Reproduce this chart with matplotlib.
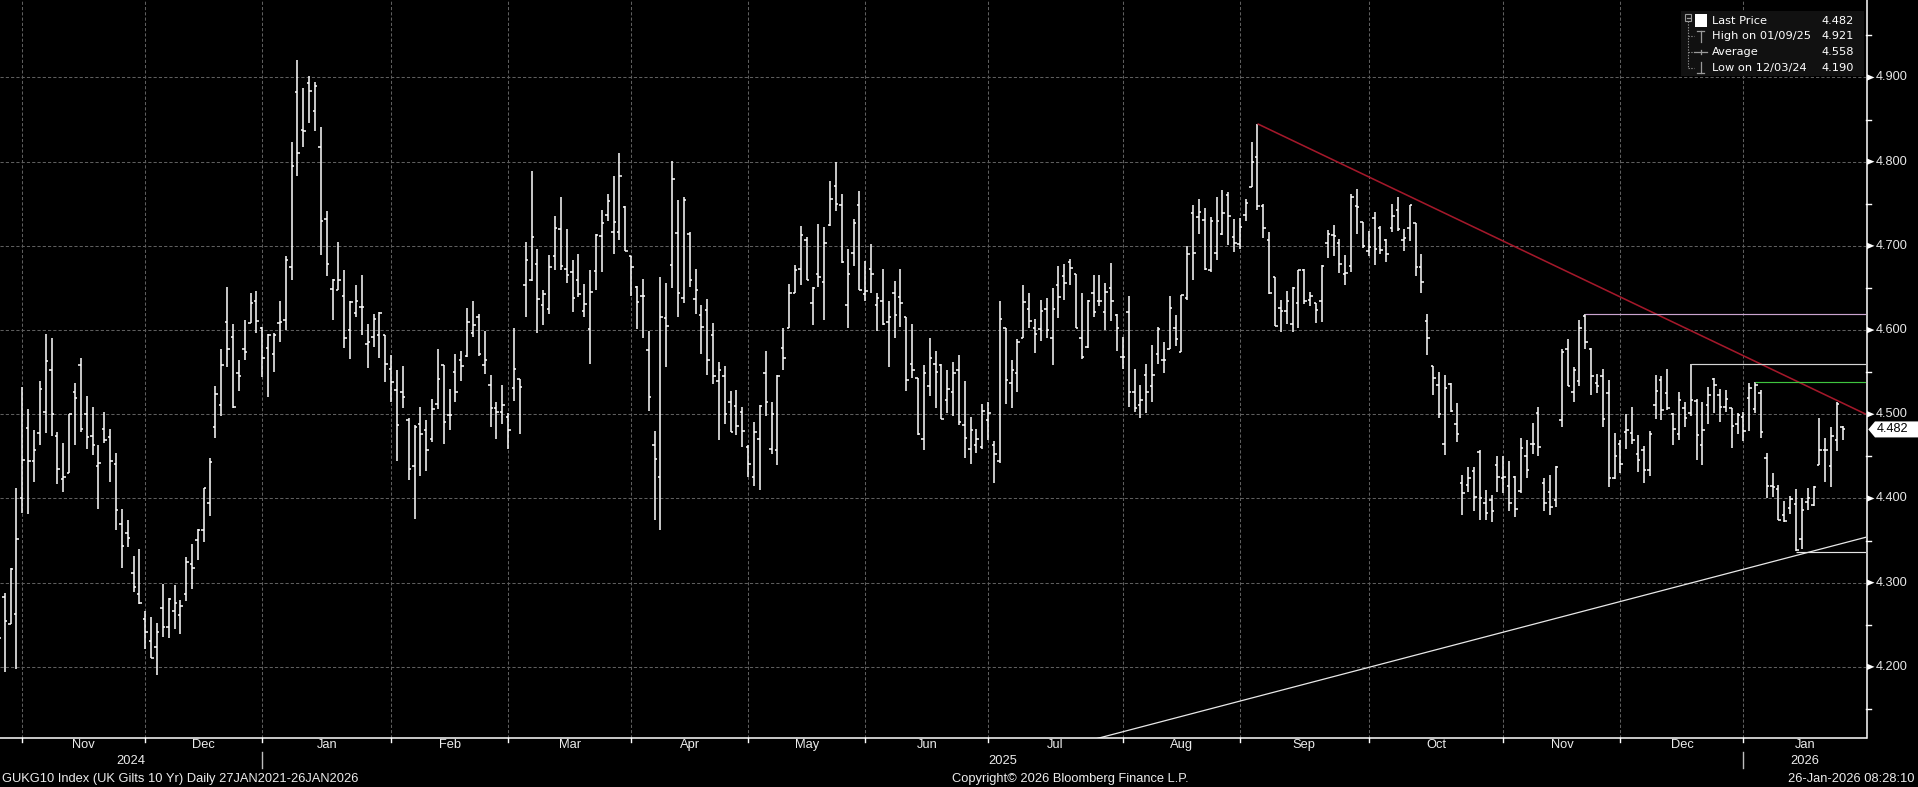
import numpy as np
import pandas as pd
import matplotlib
matplotlib.use("Agg")
import matplotlib.pyplot as plt
from matplotlib.collections import LineCollection
from matplotlib.patches import Polygon, Rectangle
from matplotlib.lines import Line2D

plt.rcParams['lines.scale_dashes'] = False
plt.rcParams['font.family'] = ['Liberation Sans', 'DejaVu Sans']

# ---------------- data ----------------
uk_holidays = ['2024-12-25', '2024-12-26', '2025-01-01', '2025-04-18', '2025-04-21',
               '2025-05-05', '2025-05-26', '2025-08-25', '2025-12-25', '2025-12-26',
               '2026-01-01']
dates = pd.bdate_range('2024-10-25', '2026-01-26', freq='C', holidays=uk_holidays)

opens = [4.220, 4.283, 4.251, 4.263, 4.400, 4.484, 4.444, 4.478, 4.503, 4.553,
         4.474, 4.423, 4.430, 4.527, 4.559, 4.500, 4.474, 4.438, 4.483, 4.473,
         4.441, 4.370, 4.359, 4.311, 4.287, 4.257, 4.231, 4.224, 4.270, 4.247,
         4.266, 4.262, 4.286, 4.322, 4.351, 4.363, 4.395, 4.485, 4.511, 4.610,
         4.592, 4.549, 4.578, 4.608, 4.634, 4.602, 4.579, 4.571, 4.608, 4.612,
         4.675, 4.883, 4.838, 4.893, 4.860, 4.818, 4.732, 4.649, 4.648, 4.641,
         4.600, 4.620, 4.627, 4.584, 4.592, 4.594, 4.594, 4.554, 4.529, 4.526,
         4.493, 4.438, 4.489, 4.481, 4.471, 4.512, 4.558, 4.499, 4.550, 4.564,
         4.569, 4.596, 4.615, 4.558, 4.535, 4.508, 4.503, 4.497, 4.531, 4.542,
         4.654, 4.659, 4.678, 4.630, 4.625, 4.688, 4.720, 4.673, 4.669, 4.659,
         4.623, 4.601, 4.670, 4.712, 4.737, 4.716, 4.717, 4.746, 4.688, 4.651,
         4.640, 4.576, 4.463, 4.426, 4.614, 4.677, 4.715, 4.638, 4.714, 4.637,
         4.618, 4.624, 4.594, 4.540, 4.545, 4.514, 4.510, 4.503, 4.461, 4.425,
         4.471, 4.549, 4.459, 4.458, 4.579, 4.603, 4.644, 4.672, 4.707, 4.632,
         4.667, 4.657, 4.725, 4.771, 4.749, 4.630, 4.692, 4.749, 4.643, 4.672,
         4.630, 4.634, 4.610, 4.644, 4.639, 4.615, 4.560, 4.543, 4.471, 4.533,
         4.560, 4.558, 4.517, 4.526, 4.553, 4.487, 4.459, 4.463, 4.461, 4.493,
         4.463, 4.444, 4.602, 4.537, 4.549, 4.591, 4.625, 4.603, 4.601, 4.625,
         4.591, 4.654, 4.664, 4.681, 4.667, 4.591, 4.580, 4.644, 4.635, 4.621,
         4.650, 4.618, 4.568, 4.622, 4.527, 4.511, 4.547, 4.533, 4.572, 4.565,
         4.577, 4.603, 4.574, 4.638, 4.739, 4.734, 4.731, 4.671, 4.692, 4.714,
         4.761, 4.710, 4.702, 4.737, 4.770, 4.806, 4.747, 4.707, 4.663, 4.626,
         4.623, 4.607, 4.632, 4.671, 4.636, 4.632, 4.635, 4.703, 4.713, 4.703,
         4.667, 4.676, 4.747, 4.728, 4.694, 4.733, 4.721, 4.707, 4.721, 4.743,
         4.707, 4.721, 4.727, 4.675, 4.611, 4.557, 4.535, 4.465, 4.536, 4.488,
         4.418, 4.416, 4.433, 4.455, 4.395, 4.398, 4.440, 4.424, 4.415, 4.426,
         4.409, 4.451, 4.465, 4.501, 4.418, 4.408, 4.398, 4.493, 4.577, 4.527,
         4.539, 4.617, 4.578, 4.537, 4.545, 4.525, 4.424, 4.465, 4.479, 4.478,
         4.453, 4.457, 4.434, 4.511, 4.541, 4.525, 4.500, 4.477, 4.508, 4.501,
         4.516, 4.464, 4.511, 4.542, 4.523, 4.509, 4.507, 4.489, 4.497, 4.519,
         4.506, 4.525, 4.448, 4.415, 4.411, 4.380, 4.389, 4.393, 4.352, 4.396,
         4.392, 4.440, 4.457, 4.438, 4.470, 4.485]

highs = [4.260, 4.288, 4.318, 4.412, 4.532, 4.506, 4.481, 4.540, 4.595, 4.590,
         4.479, 4.466, 4.500, 4.537, 4.567, 4.522, 4.509, 4.463, 4.503, 4.482,
         4.454, 4.388, 4.375, 4.332, 4.340, 4.266, 4.259, 4.252, 4.298, 4.282,
         4.297, 4.280, 4.331, 4.346, 4.364, 4.412, 4.448, 4.533, 4.578, 4.651,
         4.607, 4.564, 4.612, 4.644, 4.646, 4.604, 4.595, 4.596, 4.634, 4.688,
         4.823, 4.921, 4.887, 4.902, 4.895, 4.841, 4.741, 4.661, 4.705, 4.671,
         4.635, 4.654, 4.665, 4.607, 4.619, 4.621, 4.594, 4.570, 4.552, 4.557,
         4.496, 4.487, 4.509, 4.493, 4.518, 4.578, 4.558, 4.530, 4.572, 4.575,
         4.626, 4.635, 4.619, 4.599, 4.547, 4.514, 4.535, 4.501, 4.602, 4.542,
         4.704, 4.789, 4.696, 4.648, 4.689, 4.736, 4.758, 4.720, 4.683, 4.690,
         4.655, 4.671, 4.714, 4.743, 4.762, 4.783, 4.810, 4.747, 4.688, 4.652,
         4.661, 4.599, 4.480, 4.663, 4.656, 4.801, 4.755, 4.758, 4.716, 4.672,
         4.630, 4.637, 4.608, 4.562, 4.557, 4.528, 4.529, 4.509, 4.463, 4.491,
         4.511, 4.575, 4.515, 4.547, 4.602, 4.655, 4.677, 4.724, 4.711, 4.651,
         4.726, 4.722, 4.777, 4.800, 4.762, 4.696, 4.732, 4.765, 4.682, 4.702,
         4.644, 4.672, 4.634, 4.658, 4.672, 4.615, 4.607, 4.543, 4.558, 4.591,
         4.575, 4.560, 4.552, 4.562, 4.570, 4.539, 4.497, 4.483, 4.512, 4.515,
         4.468, 4.634, 4.602, 4.564, 4.589, 4.653, 4.644, 4.613, 4.636, 4.638,
         4.650, 4.676, 4.679, 4.684, 4.667, 4.644, 4.636, 4.665, 4.665, 4.656,
         4.680, 4.619, 4.592, 4.640, 4.554, 4.535, 4.560, 4.582, 4.604, 4.586,
         4.640, 4.618, 4.642, 4.700, 4.749, 4.756, 4.745, 4.734, 4.758, 4.766,
         4.764, 4.732, 4.733, 4.756, 4.823, 4.845, 4.750, 4.716, 4.663, 4.636,
         4.646, 4.651, 4.671, 4.673, 4.645, 4.632, 4.677, 4.719, 4.725, 4.708,
         4.689, 4.762, 4.768, 4.728, 4.718, 4.740, 4.724, 4.708, 4.750, 4.758,
         4.720, 4.749, 4.727, 4.690, 4.619, 4.557, 4.550, 4.547, 4.537, 4.513,
         4.428, 4.437, 4.437, 4.457, 4.410, 4.404, 4.450, 4.451, 4.445, 4.427,
         4.472, 4.470, 4.490, 4.509, 4.424, 4.428, 4.438, 4.578, 4.589, 4.556,
         4.612, 4.619, 4.579, 4.548, 4.554, 4.541, 4.478, 4.469, 4.500, 4.509,
         4.475, 4.462, 4.480, 4.547, 4.545, 4.554, 4.502, 4.527, 4.515, 4.560,
         4.518, 4.515, 4.532, 4.543, 4.530, 4.529, 4.507, 4.501, 4.503, 4.537,
         4.538, 4.529, 4.454, 4.430, 4.416, 4.397, 4.403, 4.411, 4.400, 4.413,
         4.415, 4.495, 4.472, 4.485, 4.515, 4.486]

lows = [4.200, 4.194, 4.251, 4.198, 4.383, 4.381, 4.419, 4.464, 4.478, 4.474,
        4.417, 4.408, 4.430, 4.464, 4.479, 4.459, 4.452, 4.387, 4.466, 4.420,
        4.363, 4.318, 4.342, 4.289, 4.275, 4.221, 4.211, 4.190, 4.236, 4.234,
        4.245, 4.239, 4.278, 4.292, 4.327, 4.348, 4.379, 4.472, 4.498, 4.556,
        4.508, 4.528, 4.564, 4.608, 4.596, 4.544, 4.520, 4.550, 4.586, 4.600,
        4.660, 4.783, 4.818, 4.846, 4.837, 4.689, 4.664, 4.612, 4.648, 4.579,
        4.566, 4.615, 4.594, 4.555, 4.580, 4.567, 4.538, 4.514, 4.445, 4.508,
        4.422, 4.376, 4.427, 4.433, 4.467, 4.506, 4.465, 4.481, 4.514, 4.540,
        4.568, 4.592, 4.569, 4.548, 4.485, 4.471, 4.489, 4.459, 4.516, 4.476,
        4.615, 4.658, 4.596, 4.606, 4.619, 4.671, 4.671, 4.656, 4.621, 4.639,
        4.616, 4.560, 4.648, 4.669, 4.729, 4.690, 4.707, 4.694, 4.641, 4.601,
        4.591, 4.504, 4.375, 4.362, 4.556, 4.650, 4.616, 4.632, 4.651, 4.619,
        4.572, 4.547, 4.536, 4.470, 4.488, 4.479, 4.475, 4.461, 4.425, 4.415,
        4.410, 4.498, 4.453, 4.440, 4.552, 4.603, 4.644, 4.653, 4.659, 4.606,
        4.651, 4.612, 4.724, 4.742, 4.680, 4.602, 4.676, 4.648, 4.635, 4.644,
        4.599, 4.606, 4.556, 4.590, 4.604, 4.528, 4.543, 4.475, 4.457, 4.522,
        4.508, 4.494, 4.501, 4.498, 4.487, 4.448, 4.441, 4.454, 4.459, 4.470,
        4.418, 4.442, 4.512, 4.507, 4.527, 4.591, 4.602, 4.573, 4.587, 4.591,
        4.558, 4.614, 4.636, 4.654, 4.602, 4.566, 4.579, 4.615, 4.628, 4.600,
        4.611, 4.575, 4.554, 4.509, 4.503, 4.496, 4.501, 4.515, 4.560, 4.549,
        4.577, 4.581, 4.574, 4.636, 4.659, 4.714, 4.671, 4.669, 4.683, 4.713,
        4.701, 4.693, 4.696, 4.729, 4.770, 4.743, 4.709, 4.643, 4.605, 4.598,
        4.607, 4.598, 4.603, 4.631, 4.628, 4.608, 4.610, 4.686, 4.688, 4.668,
        4.653, 4.669, 4.714, 4.698, 4.688, 4.677, 4.690, 4.681, 4.717, 4.718,
        4.694, 4.706, 4.664, 4.644, 4.570, 4.523, 4.496, 4.452, 4.503, 4.467,
        4.380, 4.408, 4.385, 4.375, 4.375, 4.372, 4.408, 4.407, 4.385, 4.378,
        4.406, 4.424, 4.453, 4.450, 4.385, 4.380, 4.390, 4.485, 4.533, 4.515,
        4.534, 4.578, 4.523, 4.525, 4.485, 4.414, 4.423, 4.430, 4.459, 4.465,
        4.431, 4.418, 4.427, 4.494, 4.493, 4.505, 4.463, 4.469, 4.485, 4.498,
        4.446, 4.440, 4.489, 4.501, 4.491, 4.503, 4.460, 4.477, 4.468, 4.480,
        4.501, 4.472, 4.400, 4.402, 4.374, 4.372, 4.382, 4.338, 4.340, 4.386,
        4.391, 4.440, 4.420, 4.414, 4.456, 4.470]

closes = [4.234, 4.255, 4.316, 4.352, 4.446, 4.444, 4.458, 4.530, 4.563, 4.500,
          4.435, 4.426, 4.500, 4.519, 4.483, 4.473, 4.464, 4.442, 4.469, 4.444,
          4.386, 4.344, 4.353, 4.295, 4.276, 4.242, 4.211, 4.242, 4.247, 4.281,
          4.276, 4.272, 4.324, 4.317, 4.363, 4.412, 4.443, 4.524, 4.559, 4.578,
          4.509, 4.546, 4.574, 4.632, 4.611, 4.567, 4.594, 4.594, 4.610, 4.683,
          4.795, 4.810, 4.837, 4.884, 4.890, 4.730, 4.679, 4.660, 4.659, 4.590,
          4.633, 4.635, 4.627, 4.586, 4.613, 4.620, 4.560, 4.538, 4.487, 4.521,
          4.435, 4.485, 4.476, 4.457, 4.506, 4.542, 4.491, 4.499, 4.526, 4.557,
          4.610, 4.606, 4.571, 4.564, 4.508, 4.503, 4.511, 4.481, 4.554, 4.532,
          4.683, 4.711, 4.637, 4.643, 4.675, 4.721, 4.676, 4.665, 4.638, 4.643,
          4.631, 4.645, 4.713, 4.727, 4.753, 4.728, 4.783, 4.694, 4.675, 4.633,
          4.640, 4.521, 4.447, 4.615, 4.605, 4.779, 4.644, 4.754, 4.659, 4.648,
          4.604, 4.565, 4.546, 4.553, 4.500, 4.479, 4.486, 4.480, 4.441, 4.479,
          4.510, 4.514, 4.500, 4.546, 4.567, 4.644, 4.671, 4.713, 4.659, 4.650,
          4.663, 4.703, 4.756, 4.750, 4.681, 4.667, 4.727, 4.648, 4.646, 4.667,
          4.638, 4.607, 4.616, 4.618, 4.632, 4.541, 4.553, 4.476, 4.549, 4.567,
          4.550, 4.494, 4.530, 4.549, 4.491, 4.472, 4.481, 4.471, 4.504, 4.501,
          4.453, 4.613, 4.541, 4.553, 4.586, 4.633, 4.611, 4.595, 4.623, 4.600,
          4.625, 4.639, 4.656, 4.674, 4.603, 4.568, 4.634, 4.622, 4.635, 4.645,
          4.634, 4.603, 4.568, 4.527, 4.508, 4.517, 4.526, 4.547, 4.601, 4.565,
          4.626, 4.589, 4.642, 4.690, 4.691, 4.740, 4.672, 4.729, 4.730, 4.739,
          4.735, 4.703, 4.722, 4.751, 4.800, 4.747, 4.721, 4.644, 4.605, 4.623,
          4.634, 4.650, 4.671, 4.634, 4.640, 4.624, 4.676, 4.714, 4.712, 4.679,
          4.668, 4.758, 4.746, 4.700, 4.699, 4.696, 4.695, 4.690, 4.735, 4.720,
          4.709, 4.748, 4.675, 4.657, 4.590, 4.543, 4.500, 4.531, 4.504, 4.477,
          4.407, 4.424, 4.402, 4.401, 4.383, 4.385, 4.425, 4.426, 4.395, 4.388,
          4.460, 4.434, 4.465, 4.461, 4.395, 4.390, 4.437, 4.574, 4.534, 4.552,
          4.602, 4.586, 4.545, 4.533, 4.494, 4.424, 4.450, 4.441, 4.481, 4.469,
          4.446, 4.434, 4.477, 4.528, 4.505, 4.507, 4.483, 4.517, 4.495, 4.517,
          4.475, 4.481, 4.523, 4.535, 4.509, 4.518, 4.486, 4.499, 4.480, 4.531,
          4.535, 4.479, 4.415, 4.414, 4.375, 4.373, 4.399, 4.339, 4.386, 4.400,
          4.414, 4.457, 4.458, 4.474, 4.512, 4.482]

last_price = 4.482
legend_rows = [("Last Price", "4.482"), ("High on 01/09/25", "4.921"),
               ("Average", "4.558"), ("Low on 12/03/24", "4.190")]
y_ticks = [4.2, 4.3, 4.4, 4.5, 4.6, 4.7, 4.8, 4.9]

# drawn annotations (trend lines and horizontal levels)
resist_start = 215          # bar index of the early-September high
resist_end_value = 4.500    # value where the red trend line meets the axis
support_end_value = 4.354   # value where the white trend line meets the axis
support_slope = 0.00182     # per trading day
levels = [(271, 4.619, '#c9a3cf'), (289, 4.560, '#d4d4d4'),
          (300, 4.538, '#3fc43f'), (307, 4.336, '#e4e4e4')]

footer_left = "GUKG10 Index (UK Gilts 10 Yr) Daily 27JAN2021-26JAN2026"
footer_mid = "Copyright\u00a9 2026 Bloomberg Finance L.P."
footer_right = "26-Jan-2026 08:28:10"

# ---------------- layout ----------------
W, H = 1918, 787
AXR = 1866.0
AXB = 737.6
X0, X1 = 0.19, 318.95
Y0, Y1 = 4.116, 4.992

n = len(dates)
assert n == len(opens) == len(highs) == len(lows) == len(closes)

fig = plt.figure(figsize=(W / 100, H / 100), dpi=100, facecolor='black')
ax = fig.add_axes([0, 1 - AXB / H, AXR / W, AXB / H])
ax.set_facecolor('black')
ax.set_xlim(X0, X1)
ax.set_ylim(Y0, Y1)
for s in ax.spines.values():
    s.set_visible(False)
ax.set_xticks([])
ax.set_yticks([])


def px(i):
    return (i - X0) / (X1 - X0) * AXR


def py(v):
    return (Y1 - v) / (Y1 - Y0) * AXB


def F(x, y):
    return (x / W, 1 - y / H)


def fline(xs, ys, **kw):
    fig.add_artist(Line2D([x / W for x in xs], [1 - y / H for y in ys],
                          transform=fig.transFigure, **kw))


# gridlines
month_key = dates.year * 12 + dates.month
ends = [i for i in range(n - 1) if month_key[i] != month_key[i + 1]]
grid_kw = dict(color='#5e5e5e', lw=0.75, dashes=(2.3, 1.5), zorder=1)
for v in y_ticks:
    ax.axhline(v, **grid_kw)
for e in ends:
    ax.axvline(e, **grid_kw)

# OHLC bars
tw = 0.42
segs = []
for i in range(n):
    segs.append([(i, lows[i]), (i, highs[i])])
    segs.append([(i - tw, opens[i]), (i, opens[i])])
    segs.append([(i, closes[i]), (i + tw, closes[i])])
ax.add_collection(LineCollection(segs, colors='white', linewidths=1.1,
                                 capstyle='butt', zorder=3))

# trend lines
ax.plot([resist_start, X1], [highs[resist_start], resist_end_value],
        color='#a3182a', lw=1.15, zorder=4, solid_capstyle='butt')
sx = np.array([X1 - 160, X1])
ax.plot(sx, support_end_value - support_slope * (X1 - sx),
        color='#e8e8e8', lw=0.9, zorder=4)
for start, val, col in levels:
    ax.plot([start, X1], [val, val], color=col, lw=0.85, zorder=4,
            solid_capstyle='butt')

# axis lines
fline([0, AXR], [AXB, AXB], color='white', lw=1.1)
fline([AXR + 0.5, AXR + 0.5], [0, AXB], color='white', lw=1.1)
for e in ends:
    fline([px(e), px(e)], [AXB, AXB + 4.5], color='white', lw=1.0)

# y tick marks and labels
for v in y_ticks:
    y = py(v)
    fig.add_artist(Polygon([F(1867, y - 3.2), F(1867, y + 3.2), F(1874.5, y)],
                           closed=True, transform=fig.transFigure,
                           facecolor='white', edgecolor='none'))
    fig.text(*F(1876, y), f"{v:.3f}", ha='left', va='center',
             fontsize=9.2, color='#e8e8e8')
for v in np.arange(4.15, 4.99, 0.1):
    y = py(v)
    fline([AXR, AXR + 5], [y, y], color='white', lw=1.0)

# last price box
yl = py(last_price)
fig.add_artist(Polygon([F(1868.3, yl), F(1875, yl - 8), F(1918, yl - 8),
                        F(1918, yl + 8), F(1875, yl + 8)], closed=True,
                       transform=fig.transFigure, facecolor='white',
                       edgecolor='none', zorder=6))
fig.text(*F(1877, yl), f"{last_price:.3f}", ha='left', va='center',
         fontsize=9.2, color='black', zorder=7)

# month labels
bounds = ends + [X1]
for k in range(len(ends)):
    left, right = bounds[k], bounds[k + 1]
    name = dates[ends[k] + 1].strftime('%b')
    fig.text(*F(px((left + right) / 2), 745), name, ha='center', va='center',
             fontsize=9.3, color='#ececec')

# year labels and separators
dec_ends = [e for e in ends if dates[e].month == 12]
ybounds = [X0] + dec_ends + [X1]
years = [dates[0].year] + [dates[e + 1].year for e in dec_ends]
for k, yr in enumerate(years):
    fig.text(*F(px((ybounds[k] + ybounds[k + 1]) / 2), 761.5), str(yr),
             ha='center', va='center', fontsize=9.3, color='#ececec')
for e in dec_ends:
    fline([px(e), px(e)], [752, 768], color='#bdbdbd', lw=1.0)

# footer
fig.text(*F(2, 779), footer_left, ha='left', va='center', fontsize=9.3, color='#ececec')
fig.text(*F(1070, 779), footer_mid, ha='center', va='center', fontsize=9.3, color='#ececec')
fig.text(*F(1915, 779), footer_right, ha='right', va='center', fontsize=9.3, color='#ececec')

# legend box
lx0, ly0, lx1, ly1 = 1681, 11, 1864, 76
fig.add_artist(Rectangle(F(lx0, ly1), (lx1 - lx0) / W, (ly1 - ly0) / H,
                         transform=fig.transFigure, facecolor='#111111',
                         edgecolor='none', zorder=5))
rows_y = [20.5, 36.3, 52.0, 68.0]
for (lab, val), y in zip(legend_rows, rows_y):
    fig.text(*F(1711.5, y), lab, ha='left', va='center', fontsize=8.2,
             family='DejaVu Sans', color='white', zorder=7)
    fig.text(*F(1854, y), val, ha='right', va='center', fontsize=8.2,
             family='DejaVu Sans', color='white', zorder=7)
sym = dict(color='#9a9a9a', lw=0.9, zorder=7)
# collapse box
fig.add_artist(Rectangle(F(1685, 20.5), 6 / W, 6 / H, transform=fig.transFigure,
                         facecolor='none', edgecolor='#9a9a9a', lw=0.8, zorder=7))
fline([1686.5, 1689.5], [17.5, 17.5], **sym)
# tree
fline([1688, 1688], [21, 68], color='#8a8a8a', lw=0.8, dashes=(1, 1), zorder=7)
for y in rows_y[1:]:
    fline([1688, 1694], [y, y], color='#8a8a8a', lw=0.8, dashes=(1, 1), zorder=7)
# last price square
fig.add_artist(Rectangle(F(1695, 26.5), 12 / W, 12 / H, transform=fig.transFigure,
                         facecolor='white', edgecolor='none', zorder=7))
# high symbol
fline([1697, 1704], [30.5, 30.5], **sym)
fline([1700.5, 1700.5], [30.5, 42], **sym)
# average symbol
fline([1694, 1707], [52, 52], **sym)
fline([1700.5, 1700.5], [50, 54], **sym)
# low symbol
fline([1700.5, 1700.5], [62, 73], **sym)
fline([1697, 1704], [73, 73], **sym)

fig.savefig('out.png', dpi=100, facecolor='black')
